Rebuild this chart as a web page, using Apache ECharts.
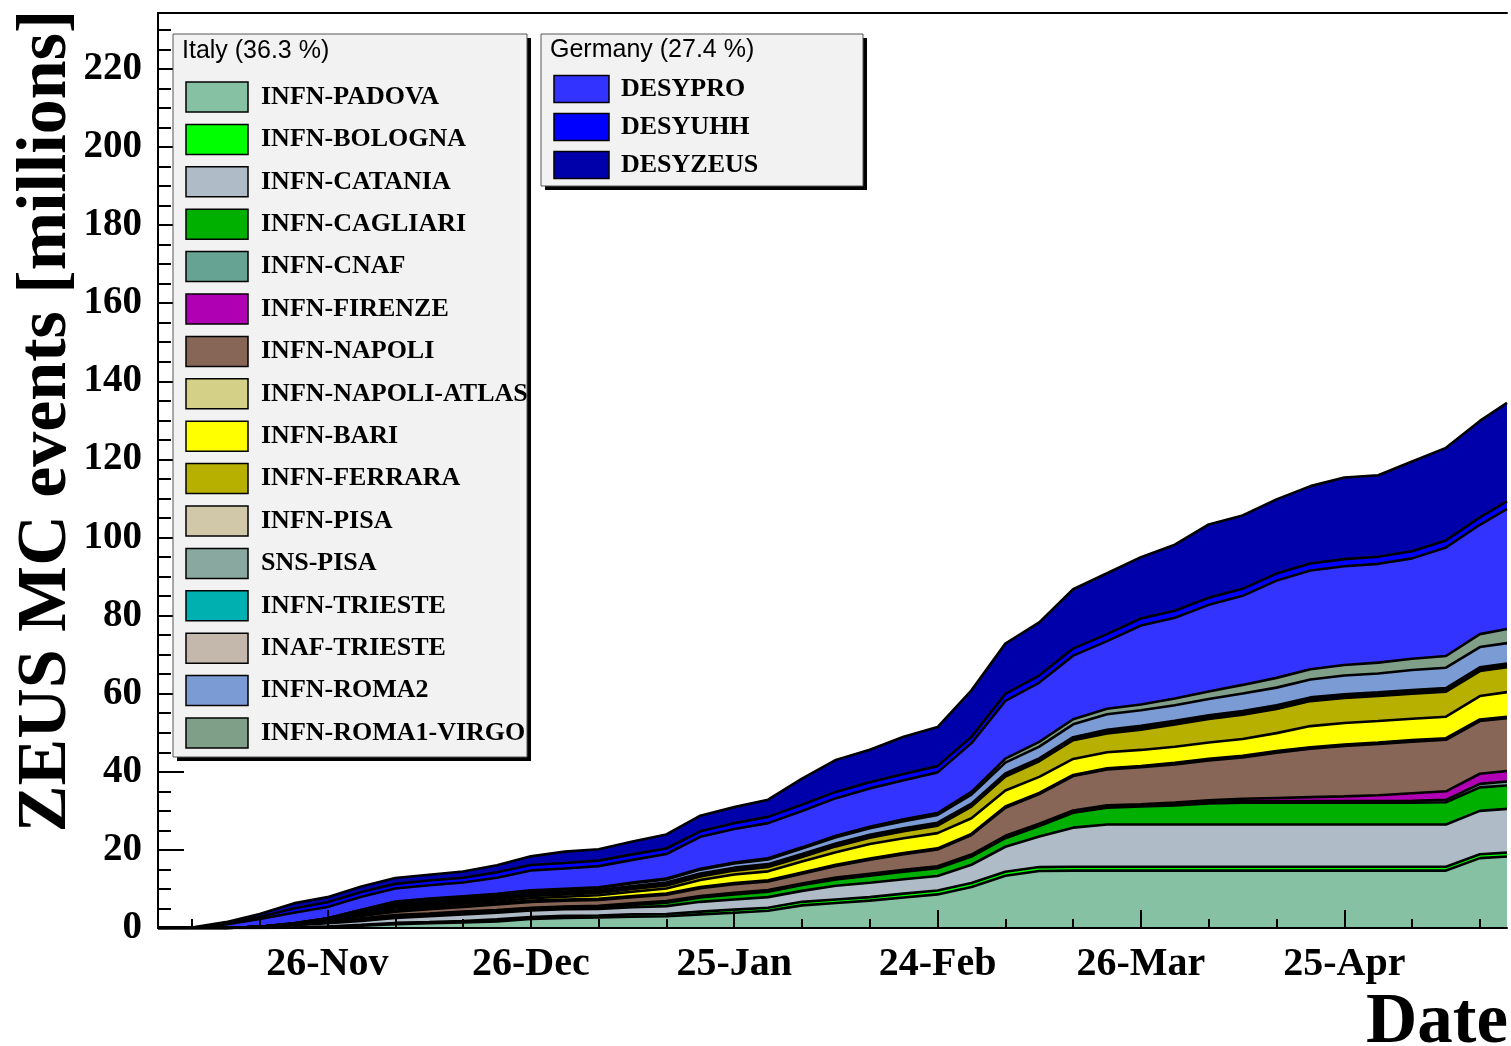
<!DOCTYPE html>
<html><head><meta charset="utf-8">
<script src="https://cdn.jsdelivr.net/npm/echarts@6/dist/echarts.min.js"></script>
<style>html,body{margin:0;padding:0;background:#fff}#c{width:1511px;height:1046px}</style>
</head><body><div id="c"></div><script>
// x = days since 1-Nov-2004
const days = [0,5,10,15,20,25,30,35,40,45,50,55,60,65,70,75,80,85,90,95,100,105,110,115,120,125,130,135,140,145,150,155,160,165,170,175,180,185,190,195,199];
const xLabelDays = [25,55,85,115,145,175];
const xTickLabels = ['26-Nov','26-Dec','25-Jan','24-Feb','26-Mar','25-Apr'];
const xMinorDays = [5,15,35,45,65,75,95,105,125,135,155,165,185,195];
const yTickLabels = [0,20,40,60,80,100,120,140,160,180,200,220];
const yMinorTicks = [5,10,15,25,30,35,45,50,55,65,70,75,85,90,95,105,110,115,125,130,135,145,150,155,165,170,175,185,190,195,205,210,215,225,230];

const INFN_PADOVA = [0,0,0,0,0.1,0.3,0.6,1.0,1.2,1.4,1.7,2.3,2.6,2.7,2.9,3.0,3.5,3.9,4.4,5.8,6.4,7.0,7.8,8.6,10.5,13.4,14.6,14.7,14.7,14.7,14.7,14.7,14.7,14.7,14.7,14.7,14.7,14.7,14.7,17.9,18.3];
const INFN_BOLOGNA = [0,0,0,0,0,0.1,0.2,0.3,0.3,0.4,0.5,0.5,0.5,0.5,0.6,0.6,0.7,0.8,0.8,0.9,0.9,0.9,1,1,1,1,1,1,1,1,1,1,1,1,1,1,1,1,1,1,1];
const INFN_CATANIA = [0,0,0,0.2,0.6,0.8,1.0,1.3,1.5,1.7,1.7,1.7,1.7,1.7,1.8,2.0,2.5,2.6,2.7,2.8,3.5,3.7,3.7,3.7,4.7,6.4,7.8,10.0,10.8,10.8,10.8,10.8,10.8,10.8,10.8,10.8,10.8,10.8,10.8,11.1,11.2];
const INFN_CAGLIARI = [0,0,0,0,0.1,0.2,0.3,0.3,0.3,0.3,0.3,0.3,0.3,0.4,0.6,0.9,1.1,1.3,1.4,1.5,1.6,1.8,1.9,2.0,2.1,2.2,2.7,3.8,4.3,4.6,4.9,5.4,5.6,5.6,5.6,5.6,5.6,5.6,5.7,6.0,6.0];
const INFN_CNAF = [0,0,0,0.1,0.1,0.2,0.2,0.2,0.2,0.2,0.2,0.2,0.2,0.2,0.2,0.2,0.2,0.2,0.2,0.2,0.3,0.3,0.3,0.3,0.3,0.3,0.3,0.3,0.3,0.3,0.4,0.4,0.4,0.4,0.4,0.4,0.4,0.5,0.6,0.9,1.0];
const INFN_FIRENZE = [0,0,0,0,0,0.1,0.2,0.2,0.2,0.2,0.2,0.2,0.2,0.2,0.2,0.2,0.2,0.2,0.2,0.2,0.2,0.2,0.2,0.2,0.2,0.3,0.3,0.3,0.3,0.3,0.3,0.4,0.6,0.8,1.0,1.2,1.5,1.9,2.2,2.6,2.7];
const INFN_NAPOLI = [0,0,0,0,0.2,0.3,0.6,0.9,1.1,1.2,1.4,1.5,1.5,1.5,1.6,1.6,2.0,2.2,2.2,2.5,3.0,3.6,4.0,4.3,5.0,7.2,7.6,8.8,9.2,9.5,9.8,10.2,10.6,11.6,12.4,12.9,13.1,13.2,13.2,13.5,13.5];
const INFN_NAPOLI_ATLAS = [0,0,0,0,0,0,0.2,0.3,0.3,0.3,0.3,0.3,0.3,0.3,0.3,0.3,0.3,0.3,0.3,0.3,0.3,0.3,0.3,0.3,0.3,0.3,0.3,0.3,0.3,0.3,0.4,0.4,0.4,0.4,0.4,0.4,0.4,0.4,0.4,0.4,0.4];
const INFN_BARI = [0,0,0,0,0,0.2,0.4,0.5,0.5,0.5,0.5,0.6,0.7,0.9,1.1,1.3,1.8,2.2,2.3,2.8,3.2,3.7,3.8,3.9,4.0,4.1,4.1,4.1,4.1,4.1,4.1,4.2,4.3,4.6,5.4,5.5,5.5,5.5,5.5,6.0,6.3];
const INFN_FERRARA = [0,0,0,0,0,0.1,0.3,0.5,0.5,0.5,0.5,0.6,0.6,0.6,0.7,0.8,0.9,1.0,1.1,1.2,1.5,1.6,1.8,1.9,3.0,3.6,4.0,4.8,4.8,5.2,5.7,6.0,6.2,6.2,6.4,6.4,6.4,6.4,6.4,6.4,6.4];
const INFN_PISA = [0,0,0,0,0,0,0.2,0.2,0.2,0.2,0.2,0.2,0.2,0.2,0.2,0.2,0.2,0.2,0.2,0.2,0.2,0.2,0.2,0.2,0.2,0.2,0.2,0.2,0.2,0.2,0.2,0.2,0.2,0.2,0.2,0.2,0.2,0.2,0.2,0.2,0.2];
const SNS_PISA = [0,0,0,0,0,0,0,0.2,0.2,0.2,0.2,0.2,0.2,0.2,0.2,0.2,0.2,0.2,0.2,0.2,0.2,0.2,0.2,0.2,0.2,0.2,0.2,0.2,0.3,0.3,0.3,0.3,0.3,0.3,0.3,0.3,0.3,0.3,0.3,0.3,0.3];
const INFN_TRIESTE = [0,0,0,0,0,0,0,0,0.15,0.15,0.15,0.15,0.15,0.15,0.15,0.15,0.15,0.15,0.15,0.15,0.15,0.15,0.15,0.15,0.15,0.15,0.15,0.15,0.25,0.25,0.25,0.25,0.25,0.25,0.25,0.25,0.25,0.25,0.25,0.25,0.25];
const INAF_TRIESTE = [0,0,0,0,0,0,0,0.2,0.2,0.2,0.2,0.2,0.2,0.2,0.2,0.2,0.2,0.2,0.2,0.2,0.2,0.2,0.2,0.2,0.2,0.2,0.2,0.2,0.2,0.2,0.2,0.2,0.2,0.2,0.2,0.2,0.2,0.2,0.2,0.2,0.2];
const INFN_ROMA2 = [0,0,0,0,0.1,0.2,0.4,0.5,0.5,0.5,0.5,0.5,0.5,0.5,0.7,0.8,1.0,1.1,1.2,1.4,1.6,1.7,1.8,2.0,2.3,2.8,3.0,3.3,4.0,4.0,4.0,4.2,4.5,4.5,4.6,4.8,4.8,5.1,5.2,5.2,5.2];
const INFN_ROMA1_VIRGO = [0,0,0,0,0,0,0.1,0.2,0.2,0.2,0.2,0.2,0.2,0.2,0.2,0.2,0.2,0.2,0.3,0.3,0.4,0.4,0.5,0.5,0.7,1.0,1.2,1.3,1.4,1.5,1.7,1.9,2.2,2.5,2.6,2.7,2.8,2.9,3.0,3.3,3.6];
const DESYPRO = [0,0.05,0.9,2.0,2.7,2.9,3.3,3.3,3.4,3.5,4.1,5.1,5.2,5.4,5.8,6.3,8.2,8.6,9.0,9.3,9.6,9.8,10.0,10.4,12.5,14.8,15.2,16.3,17.3,20.2,20.7,22.2,22.8,24.9,25.3,25.3,25.3,25.7,27.8,28.0,30.8];
const DESYUHH = [0,0,0.2,0.5,1.1,1.2,1.2,1.2,1.2,1.2,1.4,1.4,1.4,1.4,1.4,1.4,1.4,1.5,1.6,1.6,1.6,1.6,1.6,1.6,1.6,1.8,1.8,1.8,1.8,1.8,1.8,1.8,1.8,1.8,1.8,1.8,1.8,1.8,1.8,1.9,1.9];
const DESYZEUS = [0,0.05,0.4,0.8,1.3,1.3,1.4,1.5,1.5,1.6,1.8,2.2,2.9,2.9,3.3,3.6,4.0,4.1,4.4,6.7,8.2,8.3,9.5,10.0,11.9,12.9,13.6,15.2,15.6,15.7,16.9,18.8,18.8,19.0,19.8,20.9,20.9,23.0,23.7,24.7,25.2];

const italyNames = ['INFN-PADOVA','INFN-BOLOGNA','INFN-CATANIA','INFN-CAGLIARI','INFN-CNAF','INFN-FIRENZE','INFN-NAPOLI','INFN-NAPOLI-ATLAS','INFN-BARI','INFN-FERRARA','INFN-PISA','SNS-PISA','INFN-TRIESTE','INAF-TRIESTE','INFN-ROMA2','INFN-ROMA1-VIRGO'];
const italyValues = [INFN_PADOVA,INFN_BOLOGNA,INFN_CATANIA,INFN_CAGLIARI,INFN_CNAF,INFN_FIRENZE,INFN_NAPOLI,INFN_NAPOLI_ATLAS,INFN_BARI,INFN_FERRARA,INFN_PISA,SNS_PISA,INFN_TRIESTE,INAF_TRIESTE,INFN_ROMA2,INFN_ROMA1_VIRGO];
const italyColors = ['#86c1a4','#00ff00','#afbcc7','#00b000','#67a393','#b000b4','#886657','#d4d087','#ffff00','#b7b000','#d0c8a8','#88a8a0','#00b0b0','#c4b8ac','#7b9bd5','#809f88'];
const germanyNames = ['DESYPRO','DESYUHH','DESYZEUS'];
const germanyValues = [DESYPRO,DESYUHH,DESYZEUS];
const germanyColors = ['#3333ff','#0000ff','#0000aa'];
const italyTitle = 'Italy (36.3 %)';
const germanyTitle = 'Germany (27.4 %)';

const DAY = 86400000;
const T0 = Date.UTC(2004, 10, 1);
const toT = d => T0 + d * DAY;

const allNames = italyNames.concat(germanyNames);
const allValues = italyValues.concat(germanyValues);
const allColors = italyColors.concat(germanyColors);

// series live on a time axis (stacked by index); ticks/labels come from overlaid day-valued axes
const areaSeries = allNames.map((name, k) => ({
  name, type: 'line', stack: 'fill', xAxisIndex: 0, yAxisIndex: 0,
  data: days.map((d, i) => [toT(d), allValues[k][i]]),
  symbol: 'none', showSymbol: false, smooth: false,
  lineStyle: { width: 0, opacity: 0 },
  areaStyle: { color: allColors[k], opacity: 1 },
  itemStyle: { color: allColors[k] },
  emphasis: { disabled: true }, silent: true,
  animation: false, z: 2
}));
// black outlines of every stacked layer, drawn above all fills (ROOT style)
const outlineSeries = allNames.map((name, k) => ({
  name: name + ' outline', type: 'line', stack: 'outline', xAxisIndex: 0, yAxisIndex: 0,
  data: days.map((d, i) => [toT(d), allValues[k][i]]),
  symbol: 'none', showSymbol: false, smooth: false,
  lineStyle: { color: '#000', width: 2.6 },
  emphasis: { disabled: true }, silent: true,
  animation: false, z: 3
}));

const serif = '"Liberation Serif","Times New Roman",serif';
const sans = '"Liberation Sans",Arial,sans-serif';

function legendBox(x, y, w, h, title, titleY, names, colors, row0, rowStep, bx, bw, bh, tx) {
  const els = [];
  els.push({ type: 'rect', shape: { x: x + 4, y: y + 4, width: w, height: h }, style: { fill: '#000' }, z: 100 });
  els.push({ type: 'rect', shape: { x: x, y: y, width: w, height: h }, style: { fill: '#f2f2f2', stroke: '#555', lineWidth: 1 }, z: 101 });
  els.push({ type: 'text', x: x + 9, y: titleY, style: { text: title, font: '25px ' + sans, fill: '#000', align: 'left', verticalAlign: 'middle' }, z: 102 });
  names.forEach((n, i) => {
    const cy = row0 + i * rowStep;
    els.push({ type: 'rect', shape: { x: bx, y: cy - bh / 2, width: bw, height: bh }, style: { fill: colors[i], stroke: '#000', lineWidth: 1.5 }, z: 102 });
    els.push({ type: 'text', x: tx, y: cy, style: { text: n, font: 'bold 26px ' + serif, fill: '#000', align: 'left', verticalAlign: 'middle' }, z: 102 });
  });
  return els;
}

const graphics = []
  .concat(legendBox(173, 34, 354, 723, italyTitle, 51, italyNames, italyColors, 97, 42.4, 186, 62, 30, 261))
  .concat(legendBox(541, 34, 322, 152, germanyTitle, 50, germanyNames, germanyColors, 89, 38, 554, 55, 27, 621))
  .concat([
    { type: 'text', x: 47, y: 421, rotation: Math.PI / 2, style: { text: 'ZEUS MC events [millions]', font: 'bold 70px ' + serif, fill: '#000', align: 'center', verticalAlign: 'middle' }, z: 50 },
    { type: 'text', x: 1508, y: 1024, style: { text: 'Date', font: 'bold 71px ' + serif, fill: '#000', align: 'right', verticalAlign: 'middle' }, z: 50 }
  ]);

const DMAX = 199, YMAX = 234.3;
const axLine = { show: true, lineStyle: { color: '#000', width: 2 } };
const noAx = { axisLine: { show: false }, axisTick: { show: false }, axisLabel: { show: false }, splitLine: { show: false } };
const tickStyle = { color: '#000', width: 2 };

const option = {
  animation: false,
  backgroundColor: '#fff',
  grid: { left: 158, right: 4, top: 13, bottom: 118, containLabel: false },
  xAxis: [
    Object.assign({ type: 'time', min: toT(0), max: toT(DMAX), position: 'bottom', z: 10 }, noAx, { axisLine: axLine }),
    { type: 'value', min: 0, max: DMAX, position: 'bottom', z: 10, axisLine: { show: false },
      axisTick: { show: true, inside: true, length: 18, customValues: xLabelDays, lineStyle: tickStyle },
      axisLabel: { customValues: xLabelDays, formatter: v => xTickLabels[xLabelDays.indexOf(Math.round(v))] || '', fontFamily: serif, fontWeight: 'bold', fontSize: 40, color: '#000', margin: 17 },
      splitLine: { show: false } },
    { type: 'value', min: 0, max: DMAX, position: 'bottom', z: 10, axisLine: { show: false },
      axisTick: { show: true, inside: true, length: 9, customValues: xMinorDays, lineStyle: tickStyle },
      axisLabel: { show: false }, splitLine: { show: false } },
    Object.assign({ type: 'value', min: 0, max: DMAX, position: 'top', z: 10 }, noAx, { axisLine: axLine })
  ],
  yAxis: [
    { type: 'value', min: 0, max: YMAX, position: 'left', z: 10, axisLine: axLine,
      axisTick: { show: true, inside: true, length: 26, customValues: yTickLabels, lineStyle: tickStyle },
      axisLabel: { customValues: yTickLabels, fontFamily: serif, fontWeight: 'bold', fontSize: 39, color: '#000', margin: 16 },
      splitLine: { show: false } },
    { type: 'value', min: 0, max: YMAX, position: 'left', z: 10, axisLine: { show: false },
      axisTick: { show: true, inside: true, length: 13, customValues: yMinorTicks, lineStyle: tickStyle },
      axisLabel: { show: false }, splitLine: { show: false } },
    Object.assign({ type: 'value', min: 0, max: YMAX, position: 'right', z: 10 }, noAx, { axisLine: axLine })
  ],
  series: areaSeries.concat(outlineSeries),
  graphic: graphics
};

const chart = echarts.init(document.getElementById('c'), null, { renderer: 'canvas' });
chart.setOption(option);
</script></body></html>
